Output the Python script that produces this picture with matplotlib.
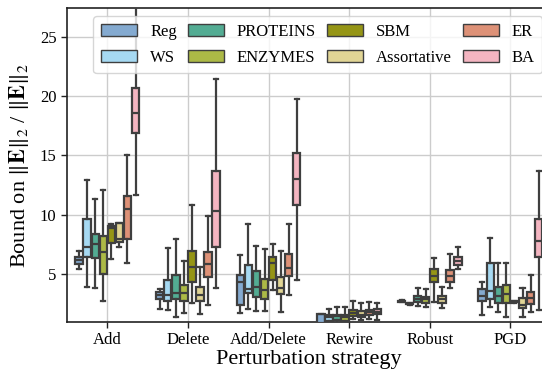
"""
plot.py — Spectral bound ratio per perturbation strategy (grouped boxplots)
"""
import colorsys
import matplotlib
matplotlib.use("Agg")
import matplotlib.pyplot as plt
import matplotlib.colors as mcolors
import matplotlib.patches as mpatches
import numpy as np


# ── Data ──────────────────────────────────────────────────────────────
STRATEGIES = ["Add", "Delete", "Add/Delete", "Rewire", "Robust", "PGD"]
GRAPH_TYPES = ["Reg", "WS", "PROTEINS", "ENZYMES", "SBM", "Assortative", "ER", "BA"]

# (whisker low, q1, median, q3, whisker high) per strategy
REG = [(5.42, 5.87, 6.20, 6.43, 6.98), (2.11, 2.90, 3.26, 3.54, 3.74),
       (1.72, 2.45, 4.38, 4.92, 6.62), (0.60, 0.80, 0.95, 1.64, 1.66),
       (2.68, 2.72, 2.75, 2.78, 2.82), (1.58, 2.78, 3.18, 3.74, 4.38)]
WS = [(3.96, 6.43, 7.27, 9.62, 12.98), (1.97, 2.76, 3.26, 4.52, 7.18),
      (2.06, 3.40, 3.74, 5.78, 9.23), (0.90, 1.10, 1.39, 1.58, 2.06),
      (2.45, 2.50, 2.53, 2.56, 2.60), (2.23, 2.90, 3.60, 5.97, 8.03)]
PROTEINS = [(3.85, 6.34, 7.55, 8.36, 11.30), (1.39, 2.92, 3.45, 4.94, 7.94),
            (1.92, 3.12, 3.96, 5.30, 7.40), (0.95, 1.16, 1.50, 1.62, 2.23),
            (2.34, 2.70, 2.93, 3.18, 3.82), (1.86, 2.61, 3.18, 3.96, 5.97)]
ENZYMES = [(2.76, 5.00, 6.90, 8.19, 12.14), (1.72, 2.76, 3.40, 4.10, 6.12),
           (1.92, 2.90, 3.68, 4.58, 7.10), (0.95, 1.10, 1.44, 1.58, 2.30),
           (2.28, 2.61, 2.90, 3.12, 3.74), (1.39, 2.56, 3.34, 4.10, 5.97)]
SBM = [(6.26, 7.66, 8.90, 9.06, 9.20), (2.56, 4.38, 5.61, 6.98, 10.82),
       (3.68, 4.52, 5.97, 6.43, 7.60), (1.22, 1.50, 1.77, 2.00, 2.76),
       (2.70, 4.38, 4.86, 5.42, 6.40), (2.62, 2.66, 2.70, 2.74, 2.78)]
ASSORTATIVE = [(7.27, 7.74, 7.97, 9.29, 9.35), (1.66, 2.78, 3.26, 3.96, 5.59),
               (1.86, 3.34, 3.90, 4.80, 6.98), (1.16, 1.39, 1.62, 1.92, 2.62),
               (2.14, 2.56, 2.90, 3.18, 3.96), (1.44, 2.14, 2.42, 2.98, 3.82)]
ER = [(5.92, 7.97, 10.50, 11.60, 15.08), (2.45, 4.80, 5.87, 6.90, 9.90),
      (3.26, 4.86, 5.50, 6.71, 9.23), (1.22, 1.58, 1.83, 2.00, 2.65),
      (3.82, 4.38, 4.86, 5.36, 6.71), (1.86, 2.50, 3.03, 3.49, 4.94)]
BA = [(11.66, 16.85, 18.53, 20.71, 29.00), (3.87, 7.27, 10.34, 13.71, 21.47),
      (4.52, 10.82, 13.00, 15.17, 19.79), (1.16, 1.64, 1.83, 2.06, 2.56),
      (5.42, 5.78, 6.12, 6.43, 7.32), (2.00, 6.43, 7.80, 9.62, 13.68)]

SERIES = [REG, WS, PROTEINS, ENZYMES, SBM, ASSORTATIVE, ER, BA]

# Paul Tol "light" palette, desaturated like seaborn boxplots
BASE_COLORS = ["#77AADD", "#99DDFF", "#44BB99", "#BBCC33",
               "#AAAA00", "#EEDD88", "#EE8866", "#FFAABB"]
EDGE = "#3f3f3f"


def desaturate(color, prop=0.75):
    r, g, b = mcolors.to_rgb(color)
    h, l, s = colorsys.rgb_to_hls(r, g, b)
    return colorsys.hls_to_rgb(h, l, s * prop)


# ── Style ─────────────────────────────────────────────────────────────
plt.rcParams["font.family"] = ["Liberation Serif", "DejaVu Serif"]
plt.rcParams["mathtext.fontset"] = "stix"

fig = plt.figure(figsize=(5.42, 3.73), dpi=100)
ax = fig.add_axes([0.1236, 0.1367, 0.8925, 0.8419])

n_hue = len(GRAPH_TYPES)
group_w = 0.8
box_w = group_w / n_hue
x = np.arange(len(STRATEGIES))

for k, (series, base) in enumerate(zip(SERIES, BASE_COLORS)):
    offset = -group_w / 2 + box_w * (k + 0.5)
    stats = [dict(whislo=s[0], q1=s[1], med=s[2], q3=s[3], whishi=s[4])
             for s in series]
    ax.bxp(stats, positions=x + offset, widths=box_w * 0.92,
           capwidths=box_w * 0.5, patch_artist=True, showfliers=False,
           boxprops=dict(facecolor=desaturate(base), edgecolor=EDGE, linewidth=1.6),
           medianprops=dict(color=EDGE, linewidth=1.6),
           whiskerprops=dict(color=EDGE, linewidth=1.6),
           capprops=dict(color=EDGE, linewidth=1.6),
           manage_ticks=False, zorder=3)

ax.set_xlim(-0.5, len(STRATEGIES) - 0.5)
ax.set_ylim(1, 27.4)
ax.set_yticks([5, 10, 15, 20, 25])
ax.set_xticks(x)
ax.set_xticklabels(STRATEGIES)
ax.tick_params(labelsize=12, length=4, width=1, color="#222222")

ax.grid(True, color="#cccccc", linewidth=1)
ax.set_axisbelow(True)
for sp in ax.spines.values():
    sp.set_color("#222222")
    sp.set_linewidth(1.2)

ax.set_xlabel("Perturbation strategy", fontsize=16, labelpad=1)
ax.set_ylabel(r"Bound on $\|\mathbf{E}\|_2$ / $\|\mathbf{E}\|_2$", fontsize=16, labelpad=6)

# Legend
patches = [mpatches.Patch(facecolor=desaturate(c), edgecolor=EDGE, linewidth=1, label=n)
           for c, n in zip(BASE_COLORS, GRAPH_TYPES)]
ax.legend(handles=patches, loc="upper right", ncol=4, fontsize=12,
          handlelength=2.15, handleheight=0.75, handletextpad=0.8,
          columnspacing=0.65, labelspacing=0.6, borderpad=0.45,
          framealpha=0.8, edgecolor="#cccccc", fancybox=True)

fig.savefig("out.png", dpi=100)
plt.close(fig)
